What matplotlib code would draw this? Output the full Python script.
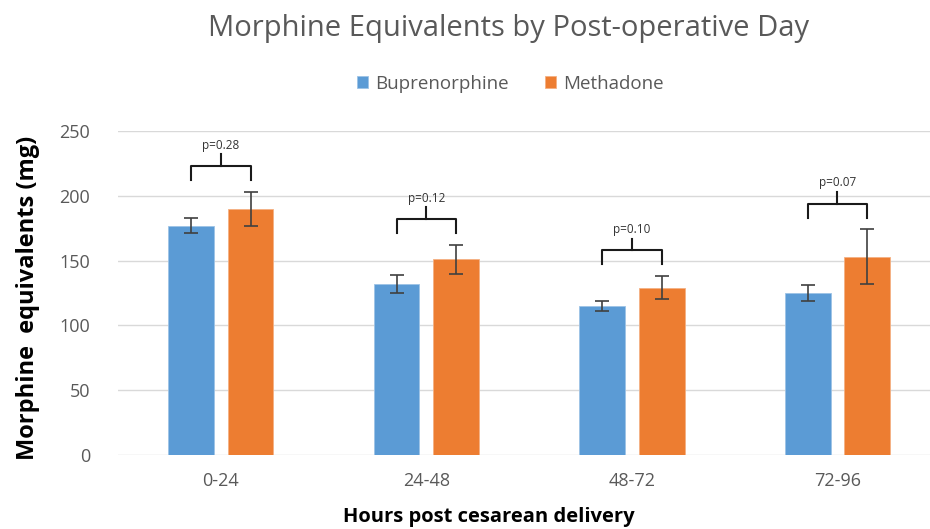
import numpy as np
import matplotlib
matplotlib.use("Agg")
import matplotlib.pyplot as plt

# data
categories = ["0-24", "24-48", "48-72", "72-96"]
bup_mean = [177, 132, 115, 125]
bup_err = [6, 7, 4, 6]
met_mean = [190, 151, 129, 153]
met_err = [13, 11, 9, 21]
p_values = ["p=0.28", "p=0.12", "p=0.10", "p=0.07"]

plt.rcParams['font.family'] = ['Open Sans', 'DejaVu Sans']

fig = plt.figure(figsize=(9.30, 5.29), dpi=100)
ax = fig.add_axes([0.1269, 0.1399, 0.8731, 0.6125])

x = np.arange(len(categories))
w = 0.222
off = 0.145
blue = '#5B9BD5'
orange = '#ED7D31'

ax.bar(x - off, bup_mean, w, color=blue, edgecolor='#9DC3E6', linewidth=0.6, zorder=2,
       label='Buprenorphine')
ax.bar(x + off, met_mean, w, color=orange, edgecolor='#F4B183', linewidth=0.6, zorder=2,
       label='Methadone')
ax.errorbar(x - off, bup_mean, yerr=bup_err, fmt='none', ecolor='#404040', elinewidth=1.2,
            capsize=5, capthick=1.2, zorder=3)
ax.errorbar(x + off, met_mean, yerr=met_err, fmt='none', ecolor='#404040', elinewidth=1.2,
            capsize=5, capthick=1.2, zorder=3)

# significance brackets
for i in range(len(categories)):
    top = max(bup_mean[i] + bup_err[i], met_mean[i] + met_err[i])
    leg = top + 9
    h = leg + 11
    tip = h + 9
    ax.plot([x[i] - off, x[i] - off, x[i] + off, x[i] + off], [leg, h, h, leg],
            color='#1a1a1a', lw=1.5, zorder=4)
    ax.plot([x[i], x[i]], [h, tip], color='#1a1a1a', lw=1.5, zorder=4)
    ax.text(x[i], tip + 2, p_values[i], ha='center', va='bottom', fontsize=8.5, color='#333333')

ax.set_xlim(-0.5, 3.45)
ax.set_ylim(0, 250)
ax.set_yticks([0, 50, 100, 150, 200, 250])
ax.set_xticks(x)
ax.set_xticklabels(categories)
ax.tick_params(axis='both', length=0, labelsize=13, labelcolor='#595959')
ax.tick_params(axis='y', pad=20)
ax.tick_params(axis='x', pad=12)
ax.grid(axis='y', color='#D9D9D9', lw=1, zorder=0)
ax.set_axisbelow(True)
for s in ax.spines.values():
    s.set_visible(False)

fig.text(0.547, 0.947, 'Morphine Equivalents by Post-operative Day', ha='center', va='center',
         fontsize=21, color='#595959')
ax.legend(loc='center', bbox_to_anchor=(0.483, 1.145), ncol=2, frameon=False, fontsize=13.5,
          handlelength=0.6, handleheight=0.6, handletextpad=0.4, columnspacing=1.9,
          labelcolor='#595959')
fig.text(0.030, 0.437, 'Morphine  equivalents (mg)', rotation=90, ha='center', va='center',
         fontsize=17, fontweight='bold', color='black')
fig.text(0.526, 0.022, 'Hours post cesarean delivery', ha='center', va='center',
         fontsize=14.5, fontweight='bold', color='black')

fig.savefig('out.png', dpi=100)
